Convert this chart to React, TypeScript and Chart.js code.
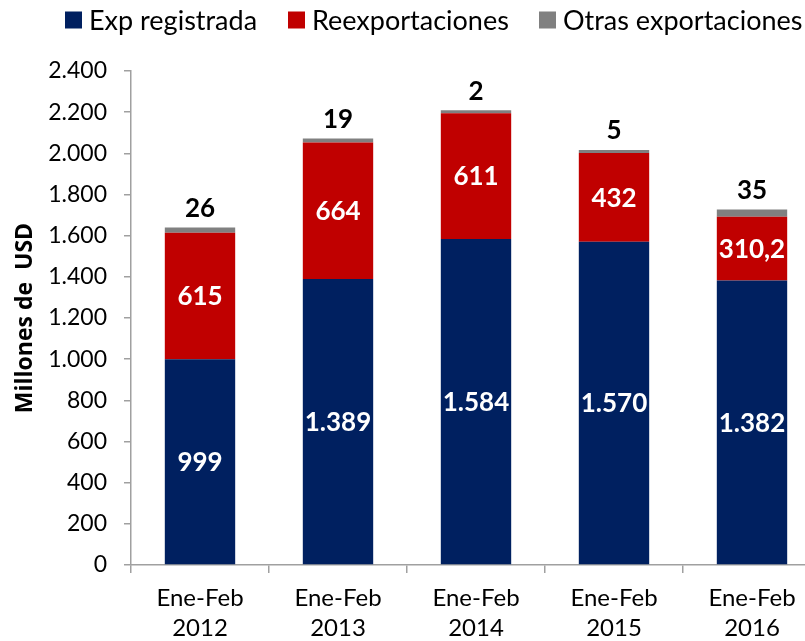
import React, { useEffect, useRef } from "react";
import { Chart, registerables } from "chart.js";

Chart.register(...registerables);

const categories: string[][] = [
  ["Ene-Feb", "2012"],
  ["Ene-Feb", "2013"],
  ["Ene-Feb", "2014"],
  ["Ene-Feb", "2015"],
  ["Ene-Feb", "2016"],
];
const expRegistrada = [999, 1389, 1584, 1570, 1382];
const reexportaciones = [615, 664, 611, 432, 310.2];
const otrasExportaciones = [26, 19, 2, 5, 35];
const seriesNames = ["Exp registrada", "Reexportaciones", "Otras exportaciones"];
const seriesColors = ["#002060", "#C00000", "#808080"];
const yTicks = [0, 200, 400, 600, 800, 1000, 1200, 1400, 1600, 1800, 2000, 2200, 2400];

const FONT = "Lato, 'Open Sans', sans-serif";

function fmt(v: number): string {
  const neg = v < 0;
  const a = Math.abs(v);
  const intPart = Math.floor(a);
  const dec = Math.round((a - intPart) * 10);
  const s = String(intPart).replace(/\B(?=(\d{3})+(?!\d))/g, ".");
  return (neg ? "-" : "") + s + (dec ? "," + dec : "");
}

const labelPlugin = {
  id: "barLabels",
  afterDatasetsDraw(chart: any) {
    const ctx = chart.ctx;
    ctx.save();
    ctx.textAlign = "center";
    ctx.textBaseline = "middle";
    chart.data.datasets.forEach((ds: any, di: number) => {
      const meta = chart.getDatasetMeta(di);
      meta.data.forEach((bar: any, i: number) => {
        const v = ds.data[i];
        ctx.font = `bold 26px ${FONT}`;
        if (di < 2) {
          ctx.fillStyle = "#ffffff";
          ctx.fillText(fmt(v), bar.x, (bar.y + bar.base) / 2 + 1);
        } else {
          ctx.fillStyle = "#000000";
          ctx.fillText(fmt(v), bar.x, bar.y - 19);
        }
      });
    });
    ctx.restore();
  },
};

const legendStarts = [65, 288, 539];

const customLegend = {
  id: "customLegend",
  afterDraw(chart: any) {
    const ctx = chart.ctx;
    ctx.save();
    ctx.font = `27px ${FONT}`;
    ctx.textBaseline = "middle";
    ctx.textAlign = "left";
    const box = 17;
    const gap = 7;
    const y = 20;
    seriesNames.forEach((n, i) => {
      const x = legendStarts[i];
      ctx.fillStyle = seriesColors[i];
      ctx.fillRect(x, y - box / 2, box, box);
      ctx.fillStyle = "#000";
      ctx.fillText(n, x + box + gap, y + 1);
    });
    ctx.restore();
  },
};

export default function App() {
  const ref = useRef<HTMLCanvasElement>(null);
  useEffect(() => {
    if (!ref.current) return;
    const chart = new Chart(ref.current, {
      type: "bar",
      data: {
        labels: categories,
        datasets: [
          { label: seriesNames[0], data: expRegistrada, backgroundColor: seriesColors[0] },
          { label: seriesNames[1], data: reexportaciones, backgroundColor: seriesColors[1] },
          { label: seriesNames[2], data: otrasExportaciones, backgroundColor: seriesColors[2], minBarLength: 3 },
        ],
      },
      options: {
        animation: false,
        responsive: false,
        maintainAspectRatio: false,
        layout: { padding: { top: 71, left: 0, right: 0, bottom: 0 } },
        datasets: { bar: { barPercentage: 0.51, categoryPercentage: 1.0 } },
        plugins: {
          legend: { display: false },
          tooltip: { enabled: false },
        },
        scales: {
          x: {
            stacked: true,
            offset: true,
            grid: {
              display: true,
              drawOnChartArea: false,
              offset: true,
              color: "#A0A0A0",
              tickLength: 8,
              lineWidth: 1.5,
            },
            border: { display: true, color: "#A0A0A0", width: 1.5 },
            ticks: {
              color: "#000",
              font: { family: FONT, size: 24, lineHeight: 1.25 },
              padding: 10,
              maxRotation: 0,
              autoSkip: false,
            },
            afterFit(scale: any) {
              scale.height = 76;
            },
          },
          y: {
            stacked: true,
            min: 0,
            max: 2400,
            afterBuildTicks(scale: any) {
              scale.ticks = yTicks.map((v) => ({ value: v }));
            },
            grid: {
              display: true,
              drawOnChartArea: false,
              color: "#A0A0A0",
              tickLength: 7,
              lineWidth: 1.5,
            },
            border: { display: true, color: "#A0A0A0", width: 1.5 },
            ticks: {
              color: "#000",
              font: { family: FONT, size: 23 },
              padding: 17,
              callback: (v: any) => fmt(Number(v)),
            },
            title: {
              display: true,
              text: "Millones de  USD",
              color: "#000",
              font: { family: "'Open Sans', sans-serif", size: 23, weight: "bold" },
              padding: { top: 12, bottom: 0 },
            },
            afterFit(scale: any) {
              scale.width = 131;
            },
          },
        },
      },
      plugins: [labelPlugin, customLegend],
    });
    return () => chart.destroy();
  }, []);
  return (
    <div
      style={{
        position: "absolute",
        left: 0,
        top: 0,
        width: 805,
        height: 641,
        overflow: "hidden",
        background: "#fff",
      }}
    >
      <canvas ref={ref} width={821} height={641} style={{ width: 821, height: 641, display: "block" }} />
    </div>
  );
}
